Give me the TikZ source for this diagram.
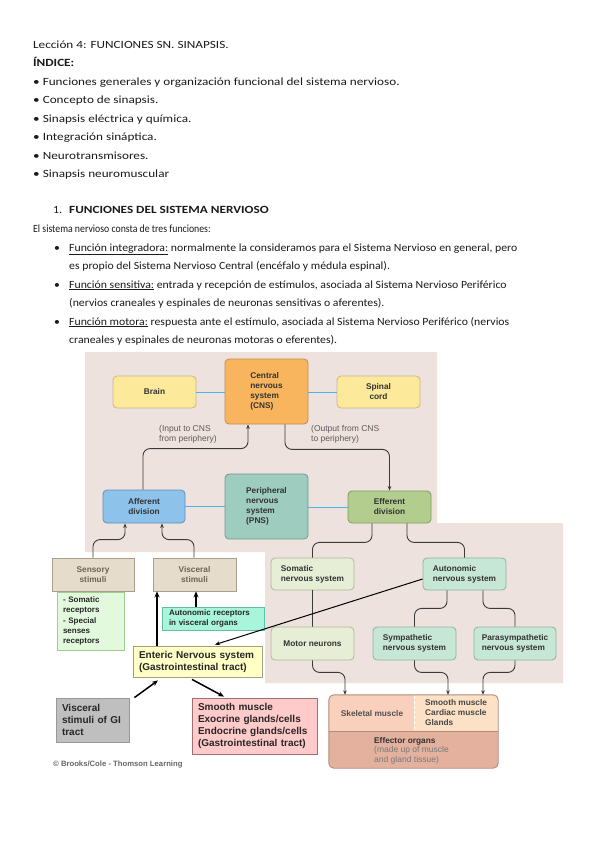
\documentclass[tikz,border=0pt]{standalone}
\usepackage{fontspec}
\setmainfont{Carlito}
\newfontfamily\topfont{Carlito}[FakeStretch=1.2]
\newfontfamily\lowfont{Carlito}[FakeStretch=1.07]
\newfontfamily\narfont{Carlito}[FakeStretch=0.89]
\newfontfamily\arialf{Liberation Sans}
\usetikzlibrary{arrows.meta}
\definecolor{bgpink}{HTML}{EDE2DD}
\definecolor{yelf}{HTML}{FDE99A}\definecolor{yeld}{HTML}{C9B98A}
\definecolor{orf}{HTML}{F9B55E}\definecolor{ord}{HTML}{C38C4C}
\definecolor{blf}{HTML}{8DC2EB}\definecolor{bld}{HTML}{5E8FB8}
\definecolor{tef}{HTML}{9ECDC0}\definecolor{ted}{HTML}{6D9C8E}
\definecolor{grf}{HTML}{B2CD8D}\definecolor{grd}{HTML}{7E9A62}
\definecolor{pgf}{HTML}{E6EED6}\definecolor{pgd}{HTML}{AEB89A}
\definecolor{mnf}{HTML}{C7E7D6}\definecolor{mnd}{HTML}{8DB39F}
\definecolor{tnf}{HTML}{E5DCCB}\definecolor{tnd}{HTML}{A89F8F}\definecolor{tnt}{HTML}{6E6358}
\definecolor{lgf}{HTML}{E3F9DE}\definecolor{lgd}{HTML}{9BD08F}
\definecolor{aqf}{HTML}{A9F5DB}\definecolor{aqd}{HTML}{5EBFA2}
\definecolor{enf}{HTML}{FFFFC6}\definecolor{end}{HTML}{A0A080}
\definecolor{gyf}{HTML}{BFBFBF}\definecolor{gyd}{HTML}{999999}
\definecolor{pkf}{HTML}{FFCACA}\definecolor{pkd}{HTML}{A07070}
\definecolor{efa}{HTML}{F8D0BC}\definecolor{efb}{HTML}{FCE1C6}\definecolor{efc}{HTML}{E3B19E}\definecolor{efd}{HTML}{B08A7A}
\definecolor{bline}{HTML}{4AB4E6}
\definecolor{lnk}{HTML}{3A3A3A}
\definecolor{txt}{HTML}{333333}
\definecolor{body}{HTML}{1A1A1A}
\newcommand\dgfont{\arialf\bfseries\fontsize{8.3}{10}\selectfont}
\newcommand\dgbig{\arialf\bfseries\fontsize{10}{12}\selectfont}
\newcommand\dgreg{\arialf\fontsize{8.5}{10}\selectfont}
\newcommand\bodyf{\lowfont\fontsize{11}{13}\selectfont}
\newcommand\topf{\topfont\fontsize{11}{13}\selectfont}
\newcommand\narf{\narfont\fontsize{11}{13}\selectfont}
\begin{document}
\begin{tikzpicture}[x=1pt,y=-1pt,
  rbox/.style={rounded corners=4pt, line width=0.8pt, inner sep=0pt, font=\dgfont, text=txt},
  sbox/.style={line width=0.8pt, inner sep=0pt, font=\dgfont, text=txt},
  btxt/.style={anchor=base west, inner sep=0pt, font=\bodyf, text=body},
  ttxt/.style={anchor=base west, inner sep=0pt, font=\topf, text=body},
  conn/.style={draw=lnk, line width=0.9pt, rounded corners=7pt},
  arr/.style={-{Stealth[length=4.5pt,width=3.6pt]}},
  blink/.style={draw=bline, line width=1pt},
  thk/.style={draw=black, line width=1.5pt, -{Stealth[length=6pt,width=5pt]}},
  med/.style={draw=black, line width=1pt, -{Stealth[length=5pt,width=4pt]}}]
\useasboundingbox (0,0) rectangle (599,848);
\fill[white] (0,0) rectangle (599,848);
% ---- text ----
\node[ttxt] (t1) at (33,49) {Lección 4: FUNCIONES SN. SINAPSIS.};
\node[ttxt, font=\topf\bfseries] (t2) at (33,67) {ÍNDICE:};
\node[ttxt] (b1) at (33,86) {• Funciones generales y organización funcional del sistema nervioso.};
\node[ttxt] (b2) at (33,104) {• Concepto de sinapsis.};
\node[ttxt] (b3) at (33,122) {• Sinapsis eléctrica y química.};
\node[ttxt] (b4) at (33,140) {• Integración sináptica.};
\node[ttxt] (b5) at (33,159) {• Neurotransmisores.};
\node[ttxt] (b6) at (33,177) {• Sinapsis neuromuscular};
\node[btxt] (h1n) at (53,213) {1.};
\node[btxt, font=\topf\bfseries] (h1) at (69,213) {FUNCIONES DEL SISTEMA NERVIOSO};
\node[btxt, font=\narf] (p1) at (33,232) {El sistema nervioso consta de tres funciones:};
\node[btxt] (d1) at (54,251) {•};
\node[btxt] (l1) at (69,251) {\underline{Función integradora:} normalmente la consideramos para el Sistema Nervioso en general, pero};
\node[btxt] (l2) at (69,269) {es propio del Sistema Nervioso Central (encéfalo y médula espinal).};
\node[btxt] (d2) at (54,288) {•};
\node[btxt] (l3) at (69,288) {\underline{Función sensitiva:} entrada y recepción de estímulos, asociada al Sistema Nervioso Periférico};
\node[btxt] (l4) at (69,306) {(nervios craneales y espinales de neuronas sensitivas o aferentes).};
\node[btxt] (d3) at (54,325) {•};
\node[btxt] (l5) at (69,325) {\underline{Función motora:} respuesta ante el estímulo, asociada al Sistema Nervioso Periférico (nervios};
\node[btxt] (l6) at (69,343) {craneales y espinales de neuronas motoras o eferentes).};
% ---- background ----
\fill[bgpink] (85,352) -- (437,352) -- (437,523) -- (563,523) -- (563,683) -- (265,683) -- (265,552) -- (85,552) -- cycle;
% ---- upper nodes ----
\node[rbox, fill=yelf, draw=yeld, minimum width=83, minimum height=32] (brain) at (154.5,392) {Brain};
\node[rbox, fill=orf, draw=ord, minimum width=83, minimum height=65, align=left] (cns) at (266.5,391.5) {Central\\nervous\\system\\(CNS)};
\node[rbox, fill=yelf, draw=yeld, minimum width=83, minimum height=32, align=center] (spinal) at (378.5,392) {Spinal\\cord};
\node[rbox, fill=blf, draw=bld, minimum width=82, minimum height=33, align=center] (aff) at (144,506.5) {Afferent\\division};
\node[rbox, fill=tef, draw=ted, minimum width=83, minimum height=65, align=left] (pns) at (266.5,506.5) {Peripheral\\nervous\\system\\(PNS)};
\node[rbox, fill=grf, draw=grd, minimum width=83, minimum height=32, align=center] (eff) at (389.5,507) {Efferent\\division};
\node[anchor=west, inner sep=0pt, font=\dgreg, text=txt!80, align=left] (inl) at (159,434) {(Input to CNS\\from periphery)};
\node[anchor=west, inner sep=0pt, font=\dgreg, text=txt!80, align=left] (outl) at (311,434) {(Output from CNS\\to periphery)};
\draw[blink] (brain.east) -- (cns.west |- brain.east);
\draw[blink] (spinal.west) -- (cns.east |- spinal.west);
\draw[blink] (aff.east) -- (pns.west |- aff.east);
\draw[blink] (pns.east |- eff.west) -- (eff.west);
\draw[conn, arr] ([xshift=-1]aff.north) -- ++(0,-41) -| ([xshift=-18.5]cns.south);
\draw[conn, arr] ([xshift=18.5]cns.south) -- ++(0,25) -| (eff.north);
% ---- left column ----
\node[sbox, fill=tnf, draw=tnd, text=tnt, minimum width=82, minimum height=33, align=center] (sens) at (93,574.5) {Sensory\\stimuli};
\node[sbox, fill=tnf, draw=tnd, text=tnt, minimum width=83, minimum height=33, align=center] (vis) at (194.5,574.5) {Visceral\\stimuli};
\draw[conn, arr] (sens.north) -- ++(0,-18) -| ([xshift=-19]aff.south);
\draw[conn, arr] ([xshift=-0.5]vis.north) -- ++(0,-18) -| ([xshift=18]aff.south);
\node[sbox, fill=lgf, draw=lgd, minimum width=67, minimum height=58, text width=55, align=left, font=\arialf\bfseries\fontsize{8}{10.2}\selectfont, text=black!85] (slist) at (90.5,621) {- Somatic\\receptors\\- Special\\senses\\receptors};
\node[sbox, fill=aqf, draw=aqd, minimum width=102, minimum height=23, text width=88, align=left, font=\arialf\bfseries\fontsize{8}{10}\selectfont, text=black!85] (aqua) at (213,618.5) {Autonomic receptors\\in visceral organs};
\node[sbox, fill=enf, draw=end, minimum width=129, minimum height=31, text width=117, align=left, font=\dgbig, text=black!85] (ent) at (197.5,661.5) {Enteric Nervous system\\(Gastrointestinal tract)};
\node[sbox, fill=gyf, draw=gyd, minimum width=73, minimum height=44, text width=61, align=left, font=\dgbig, text=black!85] (vgi) at (92.5,720) {Visceral\\stimuli of GI\\tract};
\node[sbox, fill=pkf, draw=pkd, minimum width=125, minimum height=56, text width=113, align=left, font=\dgbig, text=black!85] (smo) at (254.5,726) {Smooth muscle\\Exocrine glands/cells\\Endocrine glands/cells\\(Gastrointestinal tract)};
\draw[thk] ([xshift=-40.5]ent.north) -- ([xshift=-40.5]ent.north |- vis.south);
\draw[thk] ([xshift=-17]aqua.north) -- ([xshift=-17]aqua.north |- vis.south);
\draw[thk] ([shift={(5,0)}]vgi.north east) -- ([shift={(-39.5,3)}]ent.south);
\draw[thk] ([shift={(-5.5,2)}]ent.south) -- ([shift={(-30.5,-1)}]smo.north);
\node[anchor=base west, inner sep=0pt, font=\arialf\bfseries\fontsize{7.7}{9}\selectfont, text=black!60] (copy) at (53,766) {© Brooks/Cole - Thomson Learning};
% ---- right lower ----
\node[rbox, fill=pgf, draw=pgd, minimum width=83, minimum height=32, align=left] (som) at (312.5,574) {Somatic\\nervous system};
\node[rbox, fill=mnf, draw=mnd, minimum width=83, minimum height=32, align=left] (aut) at (464.5,574) {Autonomic\\nervous system};
\draw[conn] ([xshift=-17.5]eff.south) -- ++(0,19) -| (som.north);
\draw[conn] ([xshift=17.5]eff.south) -- ++(0,19) -| (aut.north);
\draw[conn] (som.south) -- (som.south |- 0,627);
\node[rbox, fill=pgf, draw=pgd, minimum width=83, minimum height=33, align=left] (mot) at (312.5,643.5) {Motor neurons};
\node[rbox, fill=mnf, draw=mnd, minimum width=83, minimum height=33, align=left] (sym) at (414.5,643.5) {Sympathetic\\nervous system};
\node[rbox, fill=mnf, draw=mnd, minimum width=82, minimum height=33, align=left] (par) at (515,643.5) {Parasympathetic\\nervous system};
\draw[conn] ([xshift=-17.5]aut.south) -- ++(0,18) -| (sym.north);
\draw[conn] ([xshift=18.5]aut.south) -- ++(0,18) -| (par.north);
% effector organs
\node[inner sep=0pt, minimum width=169, minimum height=73] (effo) at (413.5,731.5) {};
\begin{scope}
\clip[rounded corners=5pt] (effo.north west) rectangle (effo.south east);
\fill[efa] (effo.north west) rectangle (414,731);
\fill[efb] (414,695) rectangle (498,731);
\fill[efc] (329,731) rectangle (effo.south east);
\end{scope}
\draw[white, line width=0.9pt, dash pattern=on 3pt off 2pt] (414,696) -- (414,730.5);
\draw[efd, line width=0.9pt] (329,731) -- (498,731);
\draw[efd, line width=0.9pt, rounded corners=5pt] (effo.north west) rectangle (effo.south east);
\node[inner sep=0pt, font=\dgfont, text=txt!85] (skel) at (372,714) {Skeletal muscle};
\node[anchor=west, inner sep=0pt, font=\dgfont, text=txt!90, align=left] (smc) at (425,713) {Smooth muscle\\Cardiac muscle\\Glands};
\node[anchor=west, inner sep=0pt, font=\dgfont, text=txt, align=left] (eo) at (374,741) {Effector organs};
\node[anchor=north west, inner sep=0pt, font=\dgreg, text=txt!65, align=left] (eo2) at (374,746) {(made up of muscle\\and gland tissue)};
\draw[conn, arr] (mot.south) -- ++(0,12) -| ([xshift=-68.5]effo.north);
\draw[conn, arr] (sym.south) -- ++(0,12) -| ([xshift=34.5]effo.north);
\draw[conn, arr] (par.south) -- ++(0,12) -| ([xshift=69.5]effo.north);
% autonomic to enteric
\draw[med] ([yshift=-5]aut.west) -- ([shift={(17.5,-1)}]ent.north);
\end{tikzpicture}
\end{document}
